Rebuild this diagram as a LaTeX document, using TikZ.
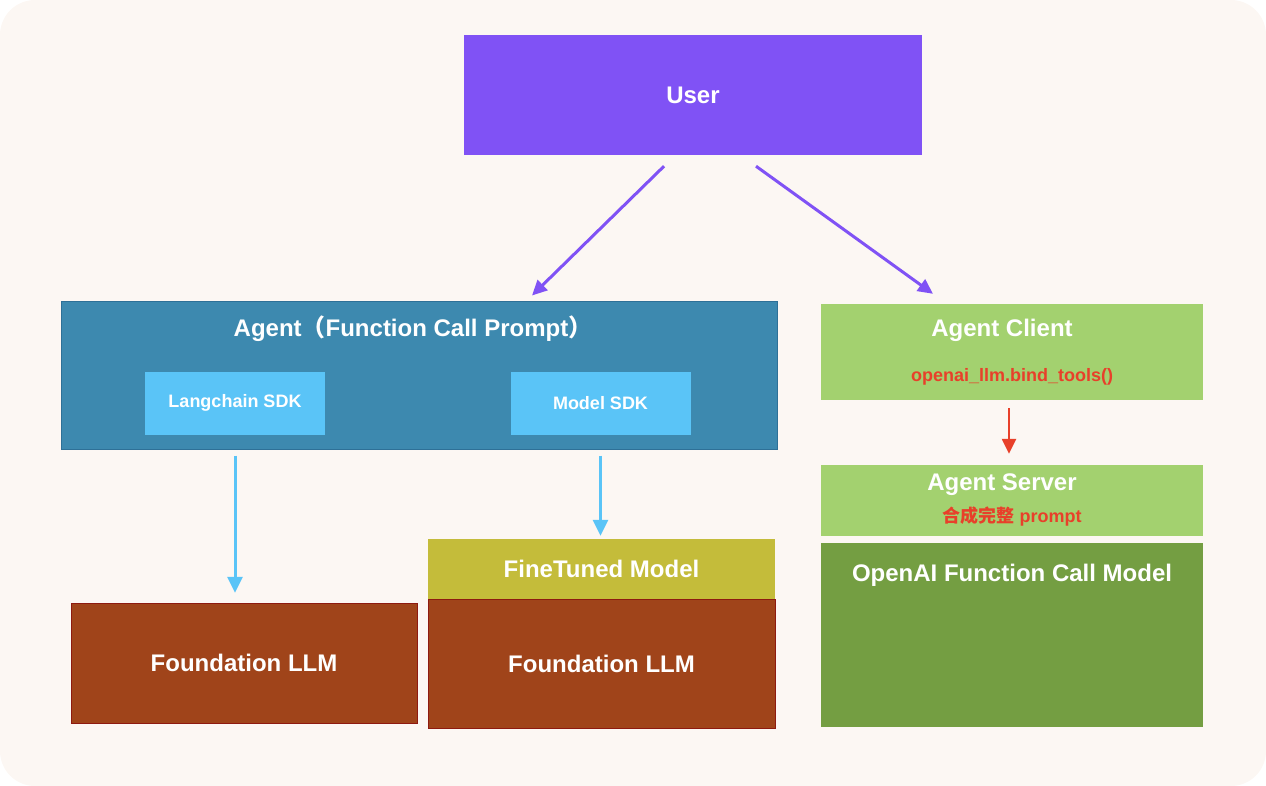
\documentclass[tikz,border=0pt]{standalone}
\usepackage{fontspec}
\setmainfont{Liberation Sans}
\newfontfamily\cjk{Noto Sans CJK SC}
\usetikzlibrary{arrows.meta}

\definecolor{bgcream}{HTML}{FCF7F3}
\definecolor{userpurple}{HTML}{8052F5}
\definecolor{agentblue}{HTML}{3D89AF}
\definecolor{agentedge}{HTML}{2E7097}
\definecolor{sdkblue}{HTML}{5AC4F7}
\definecolor{llmbrown}{HTML}{A0441A}
\definecolor{llmedge}{HTML}{8E1A10}
\definecolor{fineolive}{HTML}{C4BC3A}
\definecolor{clientgreen}{HTML}{A3D16F}
\definecolor{modelgreen}{HTML}{749E42}
\definecolor{callred}{HTML}{E8402A}

\tikzset{
    block/.style={rectangle, inner sep=0pt, text=white, font=\bfseries\fontsize{24}{28}\selectfont},
    smalltext/.style={font=\bfseries\fontsize{18}{22}\selectfont},
    userarrow/.style={draw=userpurple, line width=3pt, -{Triangle[length=15pt,width=14pt]}},
    sdkarrow/.style={draw=sdkblue, line width=3pt, -{Triangle[length=16pt,width=15pt]}},
    callarrow/.style={draw=callred, line width=2.5pt, -{Triangle[length=15pt,width=14pt]}}
}

\begin{document}
\begin{tikzpicture}[x=1pt, y=-1pt]
        % Background
        \fill[bgcream, rounded corners=35pt] (0,0) rectangle (1266,786);
        \useasboundingbox (0,0) rectangle (1266,786);

        % Nodes
        \node[block, fill=userpurple, minimum width=458pt, minimum height=120pt] (user) at (693,95) {User};

        \node[block, fill=agentblue, draw=agentedge, line width=1pt, minimum width=716pt, minimum height=147pt] (agent) at (419,375.5) {};
        \node[block] (agenttitle) at (413,329) {Agent{\cjk\bfseries （}Function Call Prompt{\cjk\bfseries ）}};
        \node[block, smalltext, fill=sdkblue, minimum width=180pt, minimum height=63pt] (lc) at (235,403) {Langchain SDK};
        \node[block, smalltext, fill=sdkblue, minimum width=180pt, minimum height=63pt] (msdk) at (600.5,403.5) {Model SDK};

        \node[block, fill=llmbrown, draw=llmedge, minimum width=346pt, minimum height=120pt] (found1) at (244,663) {Foundation LLM};
        \node[block, fill=fineolive, minimum width=347pt, minimum height=60pt] (fine) at (601.5,569) {FineTuned Model};
        \node[block, fill=llmbrown, draw=llmedge, minimum width=347pt, minimum height=129pt, anchor=north] (found2) at (fine.south) {Foundation LLM};

        \node[block, fill=clientgreen, minimum width=382pt, minimum height=96pt] (client) at (1012,352) {};
        \node[block] (clienttitle) at (1002,330) {Agent Client};
        \node[block, smalltext, text=callred] (bindcall) at (1012,377) {openai\_llm.bind\_tools()};

        \node[block, fill=clientgreen, minimum width=382pt, minimum height=71pt] (server) at (1012,500.5) {};
        \node[block] (servertitle) at (1002,485) {Agent Server};
        \node[block, smalltext, text=callred] (serverprompt) at (1012,517) {{\cjk\bfseries 合成完整} prompt};

        \node[block, fill=modelgreen, minimum width=382pt, minimum height=184pt] (oaimodel) at (1012,635) {};
        \node[block] (oaititle) at (1012,575) {OpenAI Function Call Model};

        % Edges
        \draw[userarrow] ([xshift=-29pt,yshift=-11pt]user.south) -- ([xshift=113pt,yshift=6pt]agent.north);
        \draw[userarrow] ([xshift=63pt,yshift=-11pt]user.south) -- ([xshift=-79pt,yshift=10pt]client.north);
        \draw[sdkarrow, shorten <=6pt, shorten >=10pt] (lc.south |- agent.south) -- (lc.south |- found1.north);
        \draw[sdkarrow, shorten <=6pt, shorten >=3pt] (msdk.south |- agent.south) -- (msdk.south |- fine.north);
        \draw[callarrow, shorten <=8pt, shorten >=11pt] ([xshift=-3pt]client.south) -- ([xshift=-3pt]server.north);

    \end{tikzpicture}
\end{document}
